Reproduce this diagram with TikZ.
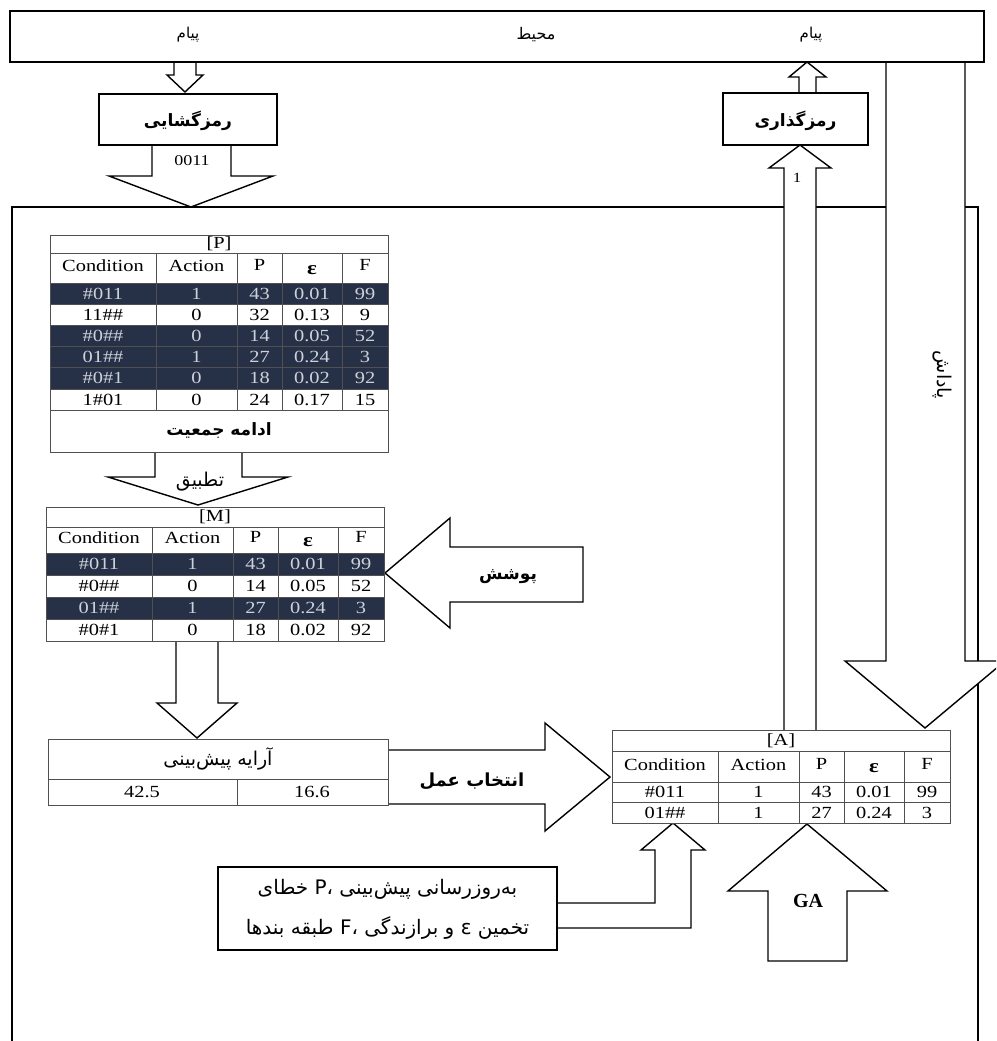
\documentclass[tikz,border=0pt]{standalone}
\usepackage{fontspec}
\setmainfont{Liberation Serif}
\newfontfamily\persianfont[Script=Arabic]{DejaVu Sans}
\newfontfamily\tabfont[FakeStretch=1.2]{Liberation Serif}
\TeXXeTstate=1
\definecolor{darkrow}{RGB}{38,48,70}
\definecolor{lighttext}{RGB}{205,210,218}
\definecolor{gridc}{RGB}{80,80,80}
\newcommand{\fatxt}[1]{\beginR #1\endR}
\tikzset{
  outline/.style={draw=black, line width=1.4pt},
  plainbox/.style={draw=black, line width=1.4pt, fill=white, inner sep=0pt},
  blockarrow/.style={draw=black, line width=1.4pt, fill=white, line join=miter},
  falbl/.style={font=\persianfont\fontsize{#1}{#1}\selectfont, inner sep=0pt, text=black},
  falbl/.default=14,
  fabold/.style={font=\persianfont\bfseries\fontsize{#1}{#1}\selectfont, inner sep=0pt, text=black},
  fabold/.default=14,
  cell/.style={font=\tabfont\fontsize{17}{17}\selectfont, inner sep=0pt, text=#1},
  cell/.default=black,
  tabgrid/.style={draw=gridc, line width=0.9pt},
}
% #1 name, #2 x0, #3 ytop, #4 ytitle, #5 yhead, #6 rowh, #7 nrows, #8 title, #9 rows
\newcommand{\cltable}[9]{%
  \fill[white] (#2,#3) rectangle (#2+338,#5+#7*#6);
  \foreach \vC/\vA/\vP/\vE/\vF/\vD [count=\i] in {#9} {
    \pgfmathsetmacro{\ya}{#5+(\i-1)*#6}
    \pgfmathsetmacro{\yb}{#5+\i*#6}
    \pgfmathsetmacro{\ym}{#5+(\i-0.5)*#6}
    \ifnum\vD=1
      \fill[darkrow] (#2,\ya) rectangle (#2+338,\yb);
      \def\tc{lighttext}
    \else
      \def\tc{black}
    \fi
    \node[cell=\tc] (#1-\i-c) at (#2+53,\ym) {\vC};
    \node[cell=\tc] (#1-\i-a) at (#2+146.5,\ym) {\vA};
    \node[cell=\tc] (#1-\i-p) at (#2+209.5,\ym) {\vP};
    \node[cell=\tc] (#1-\i-e) at (#2+262,\ym) {\vE};
    \node[cell=\tc] (#1-\i-f) at (#2+315,\ym) {\vF};
  }
  \pgfmathsetmacro{\ybot}{#5+#7*#6}
  \foreach \k in {0,...,#7}{\draw[tabgrid] (#2,#5+\k*#6) -- (#2+338,#5+\k*#6);}
  \foreach \o in {106,187,232,292}{\draw[tabgrid] (#2+\o,#4) -- (#2+\o,\ybot);}
  \draw[tabgrid] (#2,#4) -- (#2+338,#4);
  \draw[tabgrid] (#2,#3) rectangle (#2+338,\ybot);
  \node[cell] (#1-title) at (#2+169,{(#3+#4)/2}) {#8};
  \node[cell] (#1-h1) at (#2+53,{(#4+#5)/2-2}) {Condition};
  \node[cell] (#1-h2) at (#2+146.5,{(#4+#5)/2-2}) {Action};
  \node[cell] (#1-h3) at (#2+209.5,{(#4+#5)/2-3}) {P};
  \node[cell] (#1-h4) at (#2+262,{(#4+#5)/2+2}) {\bfseries\fontsize{19}{19}\selectfont ε};
  \node[cell] (#1-h5) at (#2+315,{(#4+#5)/2-3}) {F};
}
\begin{document}
\begin{tikzpicture}[x=1pt,y=-1pt]
\useasboundingbox (0,0) rectangle (996,1041);
\clip (0,0) rectangle (996,1041);
\fill[white] (0,0) rectangle (996,1041);

% agent frame
\draw[outline] (12,1045) -- (12,207) -- (978,207) -- (978,1045);

% block arrows
\draw[blockarrow] (886,62) -- (886,661) -- (845,661) -- (925,728) -- (1005,661) -- (965,661) -- (965,62);
\node[falbl=19, rotate=-90] (reward) at (942,375) {\fatxt{پاداش}};

\draw[blockarrow] (784,730) -- (784,168) -- (769,168) -- (800,145) -- (831,168) -- (816,168) -- (816,730);
\node[cell, font=\tabfont\fontsize{14}{14}\selectfont] (one) at (797,178) {1};

\draw[blockarrow] (799,93) -- (799,77) -- (789,77) -- (807,62) -- (826,77) -- (816,77) -- (816,93);

\draw[blockarrow] (174,62) -- (174,75) -- (167,75) -- (185,92) -- (203,75) -- (196,75) -- (196,62);

\draw[blockarrow] (152,145) -- (152,176) -- (109,176) -- (191,207) -- (273,176) -- (231,176) -- (231,145);
\node[cell, font=\tabfont\fontsize{15}{15}\selectfont] (code) at (192,161) {0011};

\draw[blockarrow] (155,452) -- (155,477) -- (108,477) -- (198,505) -- (288,477) -- (242,477) -- (242,452);
\node[falbl=19] (match) at (200,482) {\fatxt{تطبیق}};

\draw[blockarrow] (385,573) -- (450,518) -- (450,547) -- (583,547) -- (583,602) -- (450,602) -- (450,628) -- cycle;
\node[fabold=17] (cover) at (508,577) {\fatxt{پوشش}};

\draw[blockarrow] (176,642) -- (176,703) -- (157,703) -- (197,738) -- (237,703) -- (218,703) -- (218,642);

\draw[blockarrow] (388,750) -- (545,750) -- (545,723) -- (610,777) -- (545,831) -- (545,804) -- (388,804);
\node[fabold=18] (select) at (472,781) {\fatxt{انتخاب عمل}};

\draw[blockarrow] (557,903) -- (655,903) -- (655,850) -- (641,850) -- (673,823) -- (705,850) -- (691,850) -- (691,928) -- (557,928);

\draw[blockarrow] (768,961) -- (768,891) -- (728,891) -- (807,824) -- (887,891) -- (847,891) -- (847,961) -- cycle;
\node[font=\bfseries\fontsize{20}{20}\selectfont, inner sep=0pt] (ga) at (808,901) {GA};

% environment
\node[plainbox, minimum width=974pt, minimum height=51pt] (env) at (497,36.5) {};
\node[falbl=15] (msgL) at (188,35) {\fatxt{پیام}};
\node[falbl=16] (envl) at (536,35) {\fatxt{محیط}};
\node[falbl=15] (msgR) at (811,35) {\fatxt{پیام}};

% decoder / encoder
\node[plainbox, minimum width=178pt, minimum height=51pt] (dec) at (188,119.5) {};
\node[fabold=17] (decl) at (188,121) {\fatxt{رمزگشایی}};
\node[plainbox, minimum width=145pt, minimum height=52pt] (enc) at (795.5,119) {};
\node[fabold=17] (encl) at (795.5,121) {\fatxt{رمزگذاری}};

% population [P]
\cltable{P}{50}{235}{253}{283}{21.2}{6}{[P]}{%
  \#011/1/43/0.01/99/1,
  11\#\#/0/32/0.13/9/0,
  \#0\#\#/0/14/0.05/52/1,
  01\#\#/1/27/0.24/3/1,
  \#0\#1/0/18/0.02/92/1,
  1\#01/0/24/0.17/15/0}
\draw[tabgrid] (50,410.2) rectangle (388,452);
\node[fabold=17] (popmore) at (219,431) {\fatxt{ادامه جمعیت}};

% match set [M]
\cltable{M}{46}{507}{527}{553}{22}{4}{[M]}{%
  \#011/1/43/0.01/99/1,
  \#0\#\#/0/14/0.05/52/0,
  01\#\#/1/27/0.24/3/1,
  \#0\#1/0/18/0.02/92/0}

% prediction array
\fill[white] (48,739) rectangle (388,805);
\draw[tabgrid] (48,739) rectangle (388,805);
\draw[tabgrid] (48,779) -- (388,779);
\draw[tabgrid] (237,779) -- (237,805);
\node[falbl=19] (predl) at (218,759) {\fatxt{آرایه پیش‌بینی}};
\node[cell] (pv1) at (142,792) {42.5};
\node[cell] (pv2) at (312,792) {16.6};

% action set [A]
\cltable{A}{612}{730}{751}{782}{20.5}{2}{[A]}{%
  \#011/1/43/0.01/99/0,
  01\#\#/1/27/0.24/3/0}

% update box
\node[plainbox, minimum width=339pt, minimum height=83pt] (upd) at (387.5,908.5) {};
\node[falbl=20] (upd1) at (387.5,889) {\fatxt{به‌روزرسانی پیش‌بینی P، خطای}};
\node[falbl=20] (upd2) at (387.5,928) {\fatxt{تخمین ε و برازندگی F، طبقه بندها}};
\end{tikzpicture}
\end{document}
